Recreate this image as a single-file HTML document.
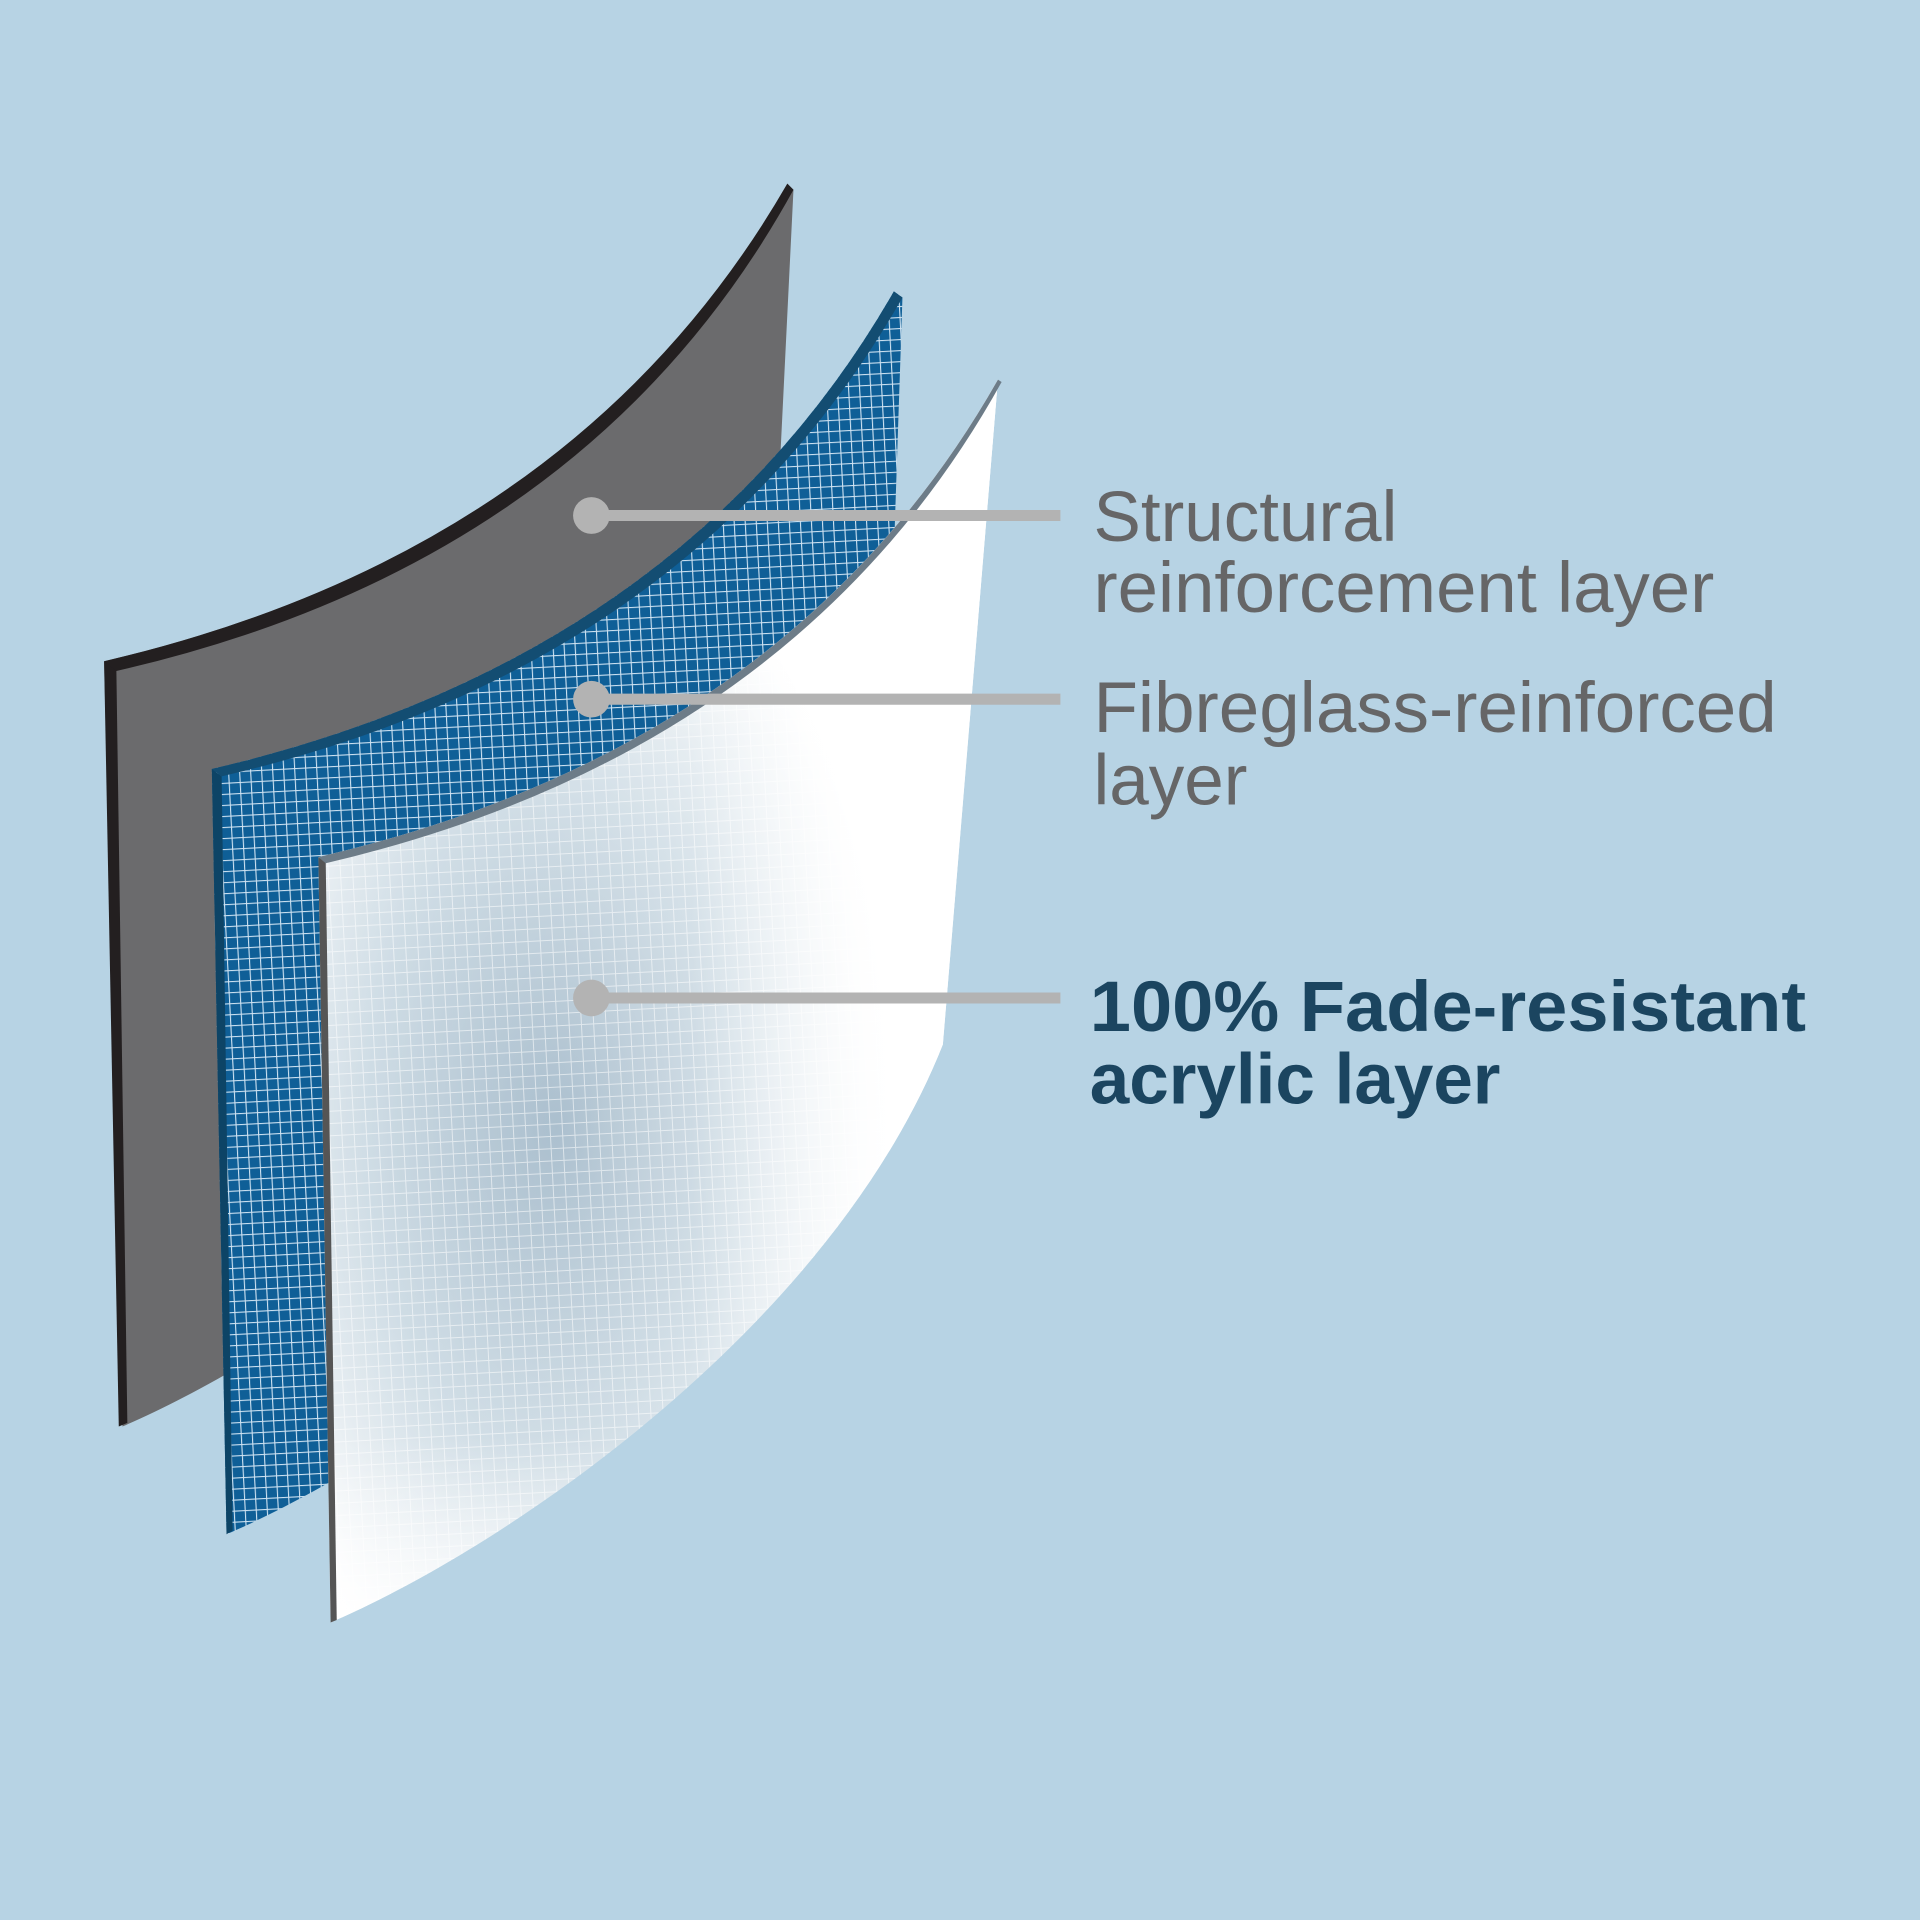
<!DOCTYPE html>
<html><head><meta charset="utf-8"><style>html,body{margin:0;padding:0;background:#b7d3e4}svg{display:block}</style></head>
<body>
<svg width="1920" height="1920" viewBox="0 0 1568 1568" xmlns="http://www.w3.org/2000/svg">
<defs>
<pattern id="mesh" width="9" height="9" patternUnits="userSpaceOnUse" patternTransform="rotate(-3)">
<rect width="9" height="9" fill="#0f5f97"/>
<path d="M0 0H9M0 0V9" stroke="#cfe3f2" stroke-width="1.8"/>
</pattern>
<pattern id="mesh2" width="10" height="10" patternUnits="userSpaceOnUse" patternTransform="rotate(-3)">
<rect width="10" height="10" fill="none"/>
<path d="M0 0H10M0 0V10" stroke="#ffffff" stroke-width="1.6" opacity="0.8"/>
</pattern>
<radialGradient id="wg" cx="0.35" cy="0.6" r="0.5">
<stop offset="0" stop-color="#9fb6c7"/>
<stop offset="0.55" stop-color="#cddbe4"/>
<stop offset="1" stop-color="#ffffff"/>
</radialGradient>
<linearGradient id="wg2" x1="0" y1="0" x2="1" y2="0">
<stop offset="0" stop-color="#ffffff" stop-opacity="0"/>
<stop offset="0.55" stop-color="#ffffff" stop-opacity="0.2"/>
<stop offset="0.85" stop-color="#ffffff" stop-opacity="0.95"/>
</linearGradient>
<linearGradient id="wg3" x1="0" y1="0" x2="0" y2="1">
<stop offset="0" stop-color="#ffffff" stop-opacity="0.6"/>
<stop offset="0.3" stop-color="#ffffff" stop-opacity="0"/>
<stop offset="0.85" stop-color="#ffffff" stop-opacity="0"/>
<stop offset="1" stop-color="#ffffff" stop-opacity="0.8"/>
</linearGradient>
</defs>
<rect width="1568" height="1568" fill="#b7d3e4"/>

<!-- gray layer -->
<path d="M85 540 Q470 450 643 150 L648 155 L630 520 L600 693 C510 920 250 1100 100 1165 Z" fill="#6b6b6d"/>
<path d="M85 540 L97 1165 L104 1162 L95 545 Z" fill="#231f20"/>
<path d="M85 540 Q470 450 643 150 L648 155 Q480 460 95 548 Z" fill="#231f20"/>

<!-- blue layer -->
<path d="M173 628 Q558 538 730 238 L737 243 L725 600 L685 781 C595 1008 335 1188 185 1253 Z" fill="url(#mesh)"/>
<path d="M173 628 L185 1253 L190 1250 L181 634 Z" fill="#0d4466"/>
<path d="M173 628 Q558 538 730 238 L737 243 Q565 545 181 634 Z" fill="#134d72"/>

<!-- white layer -->
<g>
<path id="w" d="M260 700 Q645 610 815 310 L770 853 C680 1080 420 1260 270 1325 Z" fill="url(#wg)"/>
<path d="M260 700 Q645 610 815 310 L770 853 C680 1080 420 1260 270 1325 Z" fill="url(#mesh2)" opacity="0.7"/>
<path d="M260 700 Q645 610 815 310 L770 853 C680 1080 420 1260 270 1325 Z" fill="url(#wg2)"/>
<path d="M260 700 Q645 610 815 310 L770 853 C680 1080 420 1260 270 1325 Z" fill="url(#wg3)"/>
</g>
<path d="M260 700 L270 1325 L275 1323 L266 704 Z" fill="#555"/>
<path d="M260 700 Q645 610 815 310 L818 312 Q650 615 266 705 Z" fill="#6d7c88"/>

<!-- leader lines -->
<g stroke="#b3b3b3" stroke-width="9">
<line x1="483" y1="421" x2="866" y2="421"/>
<line x1="483" y1="571" x2="866" y2="571"/>
<line x1="483" y1="815" x2="866" y2="815"/>
</g>
<g fill="#b3b3b3">
<circle cx="483" cy="421" r="15"/>
<circle cx="483" cy="571" r="15"/>
<circle cx="483" cy="815" r="15"/>
</g>

<g font-family="Liberation Sans, Arial, sans-serif" font-size="58" fill="#666667">
<text x="893" y="442">Structural</text>
<text x="893" y="500" textLength="507" lengthAdjust="spacingAndGlyphs">reinforcement layer</text>
<text x="893" y="598" textLength="558" lengthAdjust="spacingAndGlyphs">Fibreglass-reinforced</text>
<text x="893" y="657">layer</text>
</g>
<g font-family="Liberation Sans, Arial, sans-serif" font-size="58" font-weight="bold" fill="#1b4560">
<text x="890" y="842" textLength="585" lengthAdjust="spacingAndGlyphs">100% Fade-resistant</text>
<text x="890" y="901">acrylic layer</text>
</g>
</svg>
</body></html>
